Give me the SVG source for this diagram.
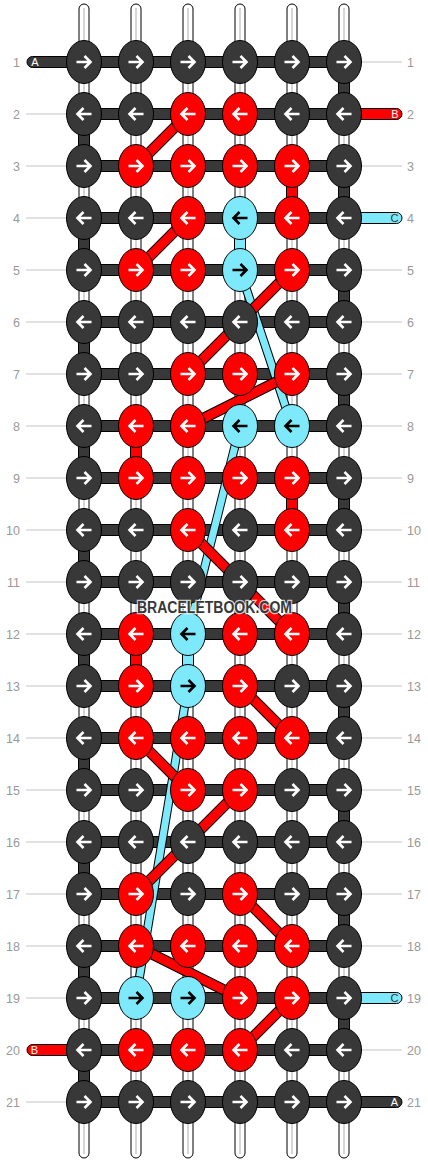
<svg xmlns="http://www.w3.org/2000/svg" xmlns:xlink="http://www.w3.org/1999/xlink" width="428" height="1164" viewBox="0 0 428 1164">
<style>
.ws{fill:#fff;stroke:#000;stroke-width:1}
.wl{stroke:#c8c8c8;stroke-width:1.5}
.gl{stroke:#c4c4c4;stroke-width:1}
.num{font-family:"Liberation Sans",Arial,sans-serif;font-size:12.5px;fill:#999}
.bar{fill:#383838;stroke:#000;stroke-width:1}
.gr{fill:#f00;stroke:#000;stroke-width:1}
.gc{fill:#7de9fa;stroke:#000;stroke-width:1}
.kd{fill:#383838;stroke:#000;stroke-width:1}
.kr{fill:#f00;stroke:#000;stroke-width:1}
.kc{fill:#7de9fa;stroke:#000;stroke-width:1}
.aw{fill:none;stroke:#fff;stroke-width:2.6}
.ab{fill:none;stroke:#000;stroke-width:2.6}
.lo{stroke:#000;stroke-width:11}
.lor{stroke:#f00;stroke-width:9}
.loc{stroke:#000;stroke-width:9}
.lcc{stroke:#7de9fa;stroke-width:7}
.tl{font-family:"Liberation Sans",Arial,sans-serif;font-size:11px;text-anchor:middle}
.wm{font-family:"Liberation Sans",Arial,sans-serif;font-weight:bold;font-size:16px;fill:#383838;stroke:#fff;stroke-width:2.5;stroke-opacity:0.75;paint-order:stroke;text-anchor:middle}
</style>
<defs>
<path id="ar" d="M-7.5,0H6M0.5,-6L6.5,0L0.5,6"/>
<path id="al" d="M7.5,0H-6M-0.5,-6L-6.5,0L-0.5,6"/>
<g id="dR"><ellipse class="kd" rx="17.5" ry="21.5"/><use href="#ar" class="aw"/></g>
<g id="dL"><ellipse class="kd" rx="17.5" ry="21.5"/><use href="#al" class="aw"/></g>
<g id="rR"><ellipse class="kr" rx="17.5" ry="21.5"/><use href="#ar" class="aw"/></g>
<g id="rL"><ellipse class="kr" rx="17.5" ry="21.5"/><use href="#al" class="aw"/></g>
<g id="cR"><ellipse class="kc" rx="17.5" ry="21.5"/><use href="#ar" class="ab"/></g>
<g id="cL"><ellipse class="kc" rx="17.5" ry="21.5"/><use href="#al" class="ab"/></g>
</defs>
<rect width="428" height="1164" fill="#fff"/>
<g id="guides">
<line class="gl" x1="362" y1="62" x2="402" y2="62"/>
<line class="gl" x1="26" y1="114" x2="66" y2="114"/>
<line class="gl" x1="26" y1="166" x2="66" y2="166"/><line class="gl" x1="362" y1="166" x2="402" y2="166"/>
<line class="gl" x1="26" y1="218" x2="66" y2="218"/>
<line class="gl" x1="26" y1="270" x2="66" y2="270"/><line class="gl" x1="362" y1="270" x2="402" y2="270"/>
<line class="gl" x1="26" y1="322" x2="66" y2="322"/><line class="gl" x1="362" y1="322" x2="402" y2="322"/>
<line class="gl" x1="26" y1="374" x2="66" y2="374"/><line class="gl" x1="362" y1="374" x2="402" y2="374"/>
<line class="gl" x1="26" y1="426" x2="66" y2="426"/><line class="gl" x1="362" y1="426" x2="402" y2="426"/>
<line class="gl" x1="26" y1="478" x2="66" y2="478"/><line class="gl" x1="362" y1="478" x2="402" y2="478"/>
<line class="gl" x1="26" y1="530" x2="66" y2="530"/><line class="gl" x1="362" y1="530" x2="402" y2="530"/>
<line class="gl" x1="26" y1="582" x2="66" y2="582"/><line class="gl" x1="362" y1="582" x2="402" y2="582"/>
<line class="gl" x1="26" y1="634" x2="66" y2="634"/><line class="gl" x1="362" y1="634" x2="402" y2="634"/>
<line class="gl" x1="26" y1="686" x2="66" y2="686"/><line class="gl" x1="362" y1="686" x2="402" y2="686"/>
<line class="gl" x1="26" y1="738" x2="66" y2="738"/><line class="gl" x1="362" y1="738" x2="402" y2="738"/>
<line class="gl" x1="26" y1="790" x2="66" y2="790"/><line class="gl" x1="362" y1="790" x2="402" y2="790"/>
<line class="gl" x1="26" y1="842" x2="66" y2="842"/><line class="gl" x1="362" y1="842" x2="402" y2="842"/>
<line class="gl" x1="26" y1="894" x2="66" y2="894"/><line class="gl" x1="362" y1="894" x2="402" y2="894"/>
<line class="gl" x1="26" y1="946" x2="66" y2="946"/><line class="gl" x1="362" y1="946" x2="402" y2="946"/>
<line class="gl" x1="26" y1="998" x2="66" y2="998"/>
<line class="gl" x1="362" y1="1050" x2="402" y2="1050"/>
<line class="gl" x1="26" y1="1102" x2="66" y2="1102"/>
</g>
<g id="row-numbers">
<text class="num" x="20" y="66.5" text-anchor="end">1</text><text class="num" x="407" y="66.5">1</text>
<text class="num" x="20" y="118.5" text-anchor="end">2</text><text class="num" x="407" y="118.5">2</text>
<text class="num" x="20" y="170.5" text-anchor="end">3</text><text class="num" x="407" y="170.5">3</text>
<text class="num" x="20" y="222.5" text-anchor="end">4</text><text class="num" x="407" y="222.5">4</text>
<text class="num" x="20" y="274.5" text-anchor="end">5</text><text class="num" x="407" y="274.5">5</text>
<text class="num" x="20" y="326.5" text-anchor="end">6</text><text class="num" x="407" y="326.5">6</text>
<text class="num" x="20" y="378.5" text-anchor="end">7</text><text class="num" x="407" y="378.5">7</text>
<text class="num" x="20" y="430.5" text-anchor="end">8</text><text class="num" x="407" y="430.5">8</text>
<text class="num" x="20" y="482.5" text-anchor="end">9</text><text class="num" x="407" y="482.5">9</text>
<text class="num" x="20" y="534.5" text-anchor="end">10</text><text class="num" x="407" y="534.5">10</text>
<text class="num" x="20" y="586.5" text-anchor="end">11</text><text class="num" x="407" y="586.5">11</text>
<text class="num" x="20" y="638.5" text-anchor="end">12</text><text class="num" x="407" y="638.5">12</text>
<text class="num" x="20" y="690.5" text-anchor="end">13</text><text class="num" x="407" y="690.5">13</text>
<text class="num" x="20" y="742.5" text-anchor="end">14</text><text class="num" x="407" y="742.5">14</text>
<text class="num" x="20" y="794.5" text-anchor="end">15</text><text class="num" x="407" y="794.5">15</text>
<text class="num" x="20" y="846.5" text-anchor="end">16</text><text class="num" x="407" y="846.5">16</text>
<text class="num" x="20" y="898.5" text-anchor="end">17</text><text class="num" x="407" y="898.5">17</text>
<text class="num" x="20" y="950.5" text-anchor="end">18</text><text class="num" x="407" y="950.5">18</text>
<text class="num" x="20" y="1002.5" text-anchor="end">19</text><text class="num" x="407" y="1002.5">19</text>
<text class="num" x="20" y="1054.5" text-anchor="end">20</text><text class="num" x="407" y="1054.5">20</text>
<text class="num" x="20" y="1106.5" text-anchor="end">21</text><text class="num" x="407" y="1106.5">21</text>
</g>
<g id="base-strands">
<rect class="ws" x="79" y="4" width="10" height="1154" rx="5"/><line class="wl" x1="84" y1="8" x2="84" y2="1154"/>
<rect class="ws" x="131" y="4" width="10" height="1154" rx="5"/><line class="wl" x1="136" y1="8" x2="136" y2="1154"/>
<rect class="ws" x="183" y="4" width="10" height="1154" rx="5"/><line class="wl" x1="188" y1="8" x2="188" y2="1154"/>
<rect class="ws" x="235" y="4" width="10" height="1154" rx="5"/><line class="wl" x1="240" y1="8" x2="240" y2="1154"/>
<rect class="ws" x="287" y="4" width="10" height="1154" rx="5"/><line class="wl" x1="292" y1="8" x2="292" y2="1154"/>
<rect class="ws" x="339" y="4" width="10" height="1154" rx="5"/><line class="wl" x1="344" y1="8" x2="344" y2="1154"/>
</g>
<g id="vertical-links">
<rect class="bar" x="338.5" y="80" width="11" height="16"/>
<rect class="bar" x="78.5" y="132" width="11" height="16"/>
<rect class="bar" x="338.5" y="184" width="11" height="16"/>
<rect class="bar" x="78.5" y="236" width="11" height="16"/>
<rect class="bar" x="338.5" y="288" width="11" height="16"/>
<rect class="bar" x="78.5" y="340" width="11" height="16"/>
<rect class="bar" x="338.5" y="392" width="11" height="16"/>
<rect class="bar" x="78.5" y="444" width="11" height="16"/>
<rect class="bar" x="338.5" y="496" width="11" height="16"/>
<rect class="bar" x="78.5" y="548" width="11" height="16"/>
<rect class="bar" x="338.5" y="600" width="11" height="16"/>
<rect class="bar" x="78.5" y="652" width="11" height="16"/>
<rect class="bar" x="338.5" y="704" width="11" height="16"/>
<rect class="bar" x="78.5" y="756" width="11" height="16"/>
<rect class="bar" x="338.5" y="808" width="11" height="16"/>
<rect class="bar" x="78.5" y="860" width="11" height="16"/>
<rect class="bar" x="338.5" y="912" width="11" height="16"/>
<rect class="bar" x="78.5" y="964" width="11" height="16"/>
<rect class="bar" x="338.5" y="1016" width="11" height="16"/>
<rect class="bar" x="78.5" y="1068" width="11" height="16"/>
<rect class="gr" x="286.5" y="184" width="11" height="16"/>
<rect class="gc" x="234.5" y="236" width="11" height="16"/>
<rect class="gr" x="130.5" y="444" width="11" height="16"/>
<rect class="gr" x="286.5" y="496" width="11" height="16"/>
<rect class="gr" x="130.5" y="652" width="11" height="16"/>
<rect class="gc" x="182.5" y="652" width="11" height="16"/>
</g>
<g id="row-bars">
<rect class="bar" x="84" y="56.5" width="260" height="11"/>
<rect class="bar" x="84" y="108.5" width="260" height="11"/>
<rect class="bar" x="84" y="160.5" width="260" height="11"/>
<rect class="bar" x="84" y="212.5" width="260" height="11"/>
<rect class="bar" x="84" y="264.5" width="260" height="11"/>
<rect class="bar" x="84" y="316.5" width="260" height="11"/>
<rect class="bar" x="84" y="368.5" width="260" height="11"/>
<rect class="bar" x="84" y="420.5" width="260" height="11"/>
<rect class="bar" x="84" y="472.5" width="260" height="11"/>
<rect class="bar" x="84" y="524.5" width="260" height="11"/>
<rect class="bar" x="84" y="576.5" width="260" height="11"/>
<rect class="bar" x="84" y="628.5" width="260" height="11"/>
<rect class="bar" x="84" y="680.5" width="260" height="11"/>
<rect class="bar" x="84" y="732.5" width="260" height="11"/>
<rect class="bar" x="84" y="784.5" width="260" height="11"/>
<rect class="bar" x="84" y="836.5" width="260" height="11"/>
<rect class="bar" x="84" y="888.5" width="260" height="11"/>
<rect class="bar" x="84" y="940.5" width="260" height="11"/>
<rect class="bar" x="84" y="992.5" width="260" height="11"/>
<rect class="bar" x="84" y="1044.5" width="260" height="11"/>
<rect class="bar" x="84" y="1096.5" width="260" height="11"/>
</g>
<g id="tails">
<rect class="bar" x="27" y="56.5" width="60" height="11" rx="5.5"/>
<rect class="gr" x="340" y="108.5" width="62" height="11" rx="5.5"/>
<rect class="gc" x="340" y="212.5" width="62" height="11" rx="5.5"/>
<rect class="gc" x="340" y="992.5" width="62" height="11" rx="5.5"/>
<rect class="gr" x="27" y="1044.5" width="60" height="11" rx="5.5"/>
<rect class="bar" x="340" y="1096.5" width="62" height="11" rx="5.5"/>
</g>
<g id="connectors">
<g><line class="loc" x1="240" y1="270" x2="292" y2="426"/><line class="lcc" x1="240" y1="270" x2="292" y2="426"/></g>
<g><line class="loc" x1="240" y1="426" x2="188" y2="634"/><line class="lcc" x1="240" y1="426" x2="188" y2="634"/></g>
<g><line class="loc" x1="188" y1="686" x2="136" y2="998"/><line class="lcc" x1="188" y1="686" x2="136" y2="998"/></g>
<g><line class="lo" x1="188" y1="114" x2="136" y2="166"/><line class="lor" x1="188" y1="114" x2="136" y2="166"/></g>
<g><line class="lo" x1="188" y1="218" x2="136" y2="270"/><line class="lor" x1="188" y1="218" x2="136" y2="270"/></g>
<g><line class="lo" x1="292" y1="270" x2="188" y2="374"/><line class="lor" x1="292" y1="270" x2="188" y2="374"/></g>
<g><line class="lo" x1="292" y1="374" x2="188" y2="426"/><line class="lor" x1="292" y1="374" x2="188" y2="426"/></g>
<g><line class="lo" x1="188" y1="530" x2="292" y2="634"/><line class="lor" x1="188" y1="530" x2="292" y2="634"/></g>
<g><line class="lo" x1="240" y1="686" x2="292" y2="738"/><line class="lor" x1="240" y1="686" x2="292" y2="738"/></g>
<g><line class="lo" x1="136" y1="738" x2="188" y2="790"/><line class="lor" x1="136" y1="738" x2="188" y2="790"/></g>
<g><line class="lo" x1="240" y1="790" x2="136" y2="894"/><line class="lor" x1="240" y1="790" x2="136" y2="894"/></g>
<g><line class="lo" x1="240" y1="894" x2="292" y2="946"/><line class="lor" x1="240" y1="894" x2="292" y2="946"/></g>
<g><line class="lo" x1="136" y1="946" x2="240" y2="998"/><line class="lor" x1="136" y1="946" x2="240" y2="998"/></g>
<g><line class="lo" x1="292" y1="998" x2="240" y2="1050"/><line class="lor" x1="292" y1="998" x2="240" y2="1050"/></g>
</g>
<g id="knots">
<g id="k1-1"><use href="#dR" x="84" y="62"/></g><g id="k1-2"><use href="#dR" x="136" y="62"/></g><g id="k1-3"><use href="#dR" x="188" y="62"/></g><g id="k1-4"><use href="#dR" x="240" y="62"/></g><g id="k1-5"><use href="#dR" x="292" y="62"/></g><g id="k1-6"><use href="#dR" x="344" y="62"/></g>
<g id="k2-1"><use href="#dL" x="84" y="114"/></g><g id="k2-2"><use href="#dL" x="136" y="114"/></g><g id="k2-3"><use href="#rL" x="188" y="114"/></g><g id="k2-4"><use href="#rL" x="240" y="114"/></g><g id="k2-5"><use href="#dL" x="292" y="114"/></g><g id="k2-6"><use href="#dL" x="344" y="114"/></g>
<g id="k3-1"><use href="#dR" x="84" y="166"/></g><g id="k3-2"><use href="#rR" x="136" y="166"/></g><g id="k3-3"><use href="#rR" x="188" y="166"/></g><g id="k3-4"><use href="#rR" x="240" y="166"/></g><g id="k3-5"><use href="#rR" x="292" y="166"/></g><g id="k3-6"><use href="#dR" x="344" y="166"/></g>
<g id="k4-1"><use href="#dL" x="84" y="218"/></g><g id="k4-2"><use href="#dL" x="136" y="218"/></g><g id="k4-3"><use href="#rL" x="188" y="218"/></g><g id="k4-4"><use href="#cL" x="240" y="218"/></g><g id="k4-5"><use href="#rL" x="292" y="218"/></g><g id="k4-6"><use href="#dL" x="344" y="218"/></g>
<g id="k5-1"><use href="#dR" x="84" y="270"/></g><g id="k5-2"><use href="#rR" x="136" y="270"/></g><g id="k5-3"><use href="#rR" x="188" y="270"/></g><g id="k5-4"><use href="#cR" x="240" y="270"/></g><g id="k5-5"><use href="#rR" x="292" y="270"/></g><g id="k5-6"><use href="#dR" x="344" y="270"/></g>
<g id="k6-1"><use href="#dL" x="84" y="322"/></g><g id="k6-2"><use href="#dL" x="136" y="322"/></g><g id="k6-3"><use href="#dL" x="188" y="322"/></g><g id="k6-4"><use href="#dL" x="240" y="322"/></g><g id="k6-5"><use href="#dL" x="292" y="322"/></g><g id="k6-6"><use href="#dL" x="344" y="322"/></g>
<g id="k7-1"><use href="#dR" x="84" y="374"/></g><g id="k7-2"><use href="#dR" x="136" y="374"/></g><g id="k7-3"><use href="#rR" x="188" y="374"/></g><g id="k7-4"><use href="#rR" x="240" y="374"/></g><g id="k7-5"><use href="#rR" x="292" y="374"/></g><g id="k7-6"><use href="#dR" x="344" y="374"/></g>
<g id="k8-1"><use href="#dL" x="84" y="426"/></g><g id="k8-2"><use href="#rL" x="136" y="426"/></g><g id="k8-3"><use href="#rL" x="188" y="426"/></g><g id="k8-4"><use href="#cL" x="240" y="426"/></g><g id="k8-5"><use href="#cL" x="292" y="426"/></g><g id="k8-6"><use href="#dL" x="344" y="426"/></g>
<g id="k9-1"><use href="#dR" x="84" y="478"/></g><g id="k9-2"><use href="#rR" x="136" y="478"/></g><g id="k9-3"><use href="#rR" x="188" y="478"/></g><g id="k9-4"><use href="#rR" x="240" y="478"/></g><g id="k9-5"><use href="#rR" x="292" y="478"/></g><g id="k9-6"><use href="#dR" x="344" y="478"/></g>
<g id="k10-1"><use href="#dL" x="84" y="530"/></g><g id="k10-2"><use href="#dL" x="136" y="530"/></g><g id="k10-3"><use href="#rL" x="188" y="530"/></g><g id="k10-4"><use href="#dL" x="240" y="530"/></g><g id="k10-5"><use href="#rL" x="292" y="530"/></g><g id="k10-6"><use href="#dL" x="344" y="530"/></g>
<g id="k11-1"><use href="#dR" x="84" y="582"/></g><g id="k11-2"><use href="#dR" x="136" y="582"/></g><g id="k11-3"><use href="#dR" x="188" y="582"/></g><g id="k11-4"><use href="#dR" x="240" y="582"/></g><g id="k11-5"><use href="#dR" x="292" y="582"/></g><g id="k11-6"><use href="#dR" x="344" y="582"/></g>
<g id="k12-1"><use href="#dL" x="84" y="634"/></g><g id="k12-2"><use href="#rL" x="136" y="634"/></g><g id="k12-3"><use href="#cL" x="188" y="634"/></g><g id="k12-4"><use href="#rL" x="240" y="634"/></g><g id="k12-5"><use href="#rL" x="292" y="634"/></g><g id="k12-6"><use href="#dL" x="344" y="634"/></g>
<g id="k13-1"><use href="#dR" x="84" y="686"/></g><g id="k13-2"><use href="#rR" x="136" y="686"/></g><g id="k13-3"><use href="#cR" x="188" y="686"/></g><g id="k13-4"><use href="#rR" x="240" y="686"/></g><g id="k13-5"><use href="#dR" x="292" y="686"/></g><g id="k13-6"><use href="#dR" x="344" y="686"/></g>
<g id="k14-1"><use href="#dL" x="84" y="738"/></g><g id="k14-2"><use href="#rL" x="136" y="738"/></g><g id="k14-3"><use href="#rL" x="188" y="738"/></g><g id="k14-4"><use href="#rL" x="240" y="738"/></g><g id="k14-5"><use href="#rL" x="292" y="738"/></g><g id="k14-6"><use href="#dL" x="344" y="738"/></g>
<g id="k15-1"><use href="#dR" x="84" y="790"/></g><g id="k15-2"><use href="#dR" x="136" y="790"/></g><g id="k15-3"><use href="#rR" x="188" y="790"/></g><g id="k15-4"><use href="#rR" x="240" y="790"/></g><g id="k15-5"><use href="#dR" x="292" y="790"/></g><g id="k15-6"><use href="#dR" x="344" y="790"/></g>
<g id="k16-1"><use href="#dL" x="84" y="842"/></g><g id="k16-2"><use href="#dL" x="136" y="842"/></g><g id="k16-3"><use href="#dL" x="188" y="842"/></g><g id="k16-4"><use href="#dL" x="240" y="842"/></g><g id="k16-5"><use href="#dL" x="292" y="842"/></g><g id="k16-6"><use href="#dL" x="344" y="842"/></g>
<g id="k17-1"><use href="#dR" x="84" y="894"/></g><g id="k17-2"><use href="#rR" x="136" y="894"/></g><g id="k17-3"><use href="#dR" x="188" y="894"/></g><g id="k17-4"><use href="#rR" x="240" y="894"/></g><g id="k17-5"><use href="#dR" x="292" y="894"/></g><g id="k17-6"><use href="#dR" x="344" y="894"/></g>
<g id="k18-1"><use href="#dL" x="84" y="946"/></g><g id="k18-2"><use href="#rL" x="136" y="946"/></g><g id="k18-3"><use href="#rL" x="188" y="946"/></g><g id="k18-4"><use href="#rL" x="240" y="946"/></g><g id="k18-5"><use href="#rL" x="292" y="946"/></g><g id="k18-6"><use href="#dL" x="344" y="946"/></g>
<g id="k19-1"><use href="#dR" x="84" y="998"/></g><g id="k19-2"><use href="#cR" x="136" y="998"/></g><g id="k19-3"><use href="#cR" x="188" y="998"/></g><g id="k19-4"><use href="#rR" x="240" y="998"/></g><g id="k19-5"><use href="#rR" x="292" y="998"/></g><g id="k19-6"><use href="#dR" x="344" y="998"/></g>
<g id="k20-1"><use href="#dL" x="84" y="1050"/></g><g id="k20-2"><use href="#rL" x="136" y="1050"/></g><g id="k20-3"><use href="#rL" x="188" y="1050"/></g><g id="k20-4"><use href="#rL" x="240" y="1050"/></g><g id="k20-5"><use href="#dL" x="292" y="1050"/></g><g id="k20-6"><use href="#dL" x="344" y="1050"/></g>
<g id="k21-1"><use href="#dR" x="84" y="1102"/></g><g id="k21-2"><use href="#dR" x="136" y="1102"/></g><g id="k21-3"><use href="#dR" x="188" y="1102"/></g><g id="k21-4"><use href="#dR" x="240" y="1102"/></g><g id="k21-5"><use href="#dR" x="292" y="1102"/></g><g id="k21-6"><use href="#dR" x="344" y="1102"/></g>
</g>
<g id="tail-labels">
<text class="tl" x="35" y="66" fill="#fff">A</text>
<text class="tl" x="395" y="118" fill="#fff">B</text>
<text class="tl" x="394.5" y="222" fill="#333">C</text>
<text class="tl" x="394.5" y="1002" fill="#333">C</text>
<text class="tl" x="34.5" y="1054" fill="#fff">B</text>
<text class="tl" x="394.5" y="1106" fill="#fff">A</text>
</g>
<text class="wm" x="214.5" y="613" textLength="155" lengthAdjust="spacingAndGlyphs">BRACELETBOOK.COM</text>
</svg>
